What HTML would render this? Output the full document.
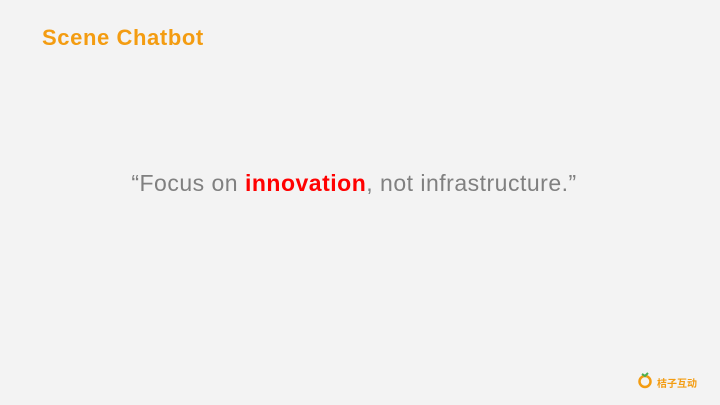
<!DOCTYPE html>
<html><head><meta charset="utf-8"><style>
body{margin:0}
#s{position:relative;width:720px;height:405px;background:#f3f3f3;overflow:hidden;font-family:"Liberation Sans","Noto Sans CJK SC",sans-serif}
#t{position:absolute;left:42px;top:25px;font-size:22px;font-weight:bold;color:#f39c11;letter-spacing:0.6px}
#q{position:absolute;left:0;width:708px;top:170px;text-align:center;font-size:23px;color:#808080;letter-spacing:0.5px}
#q b{color:#ff0000}
#lt{position:absolute;left:657px;top:375px;font-size:10px;color:#f39c11;font-weight:bold}
</style></head><body>
<div id="s">
<div id="t">Scene Chatbot</div>
<div id="q">“Focus on <b>innovation</b>, not infrastructure.”</div>
<svg style="position:absolute;left:636px;top:370px" width="20" height="20">
<circle cx="9" cy="11.5" r="5.5" fill="none" stroke="#f39c11" stroke-width="2.5"/>
<path d="M6 4 L9 6 L12 3" fill="none" stroke="#4caf50" stroke-width="2"/>
</svg>
<div id="lt">桔子互动</div>
</div>
</body></html>
